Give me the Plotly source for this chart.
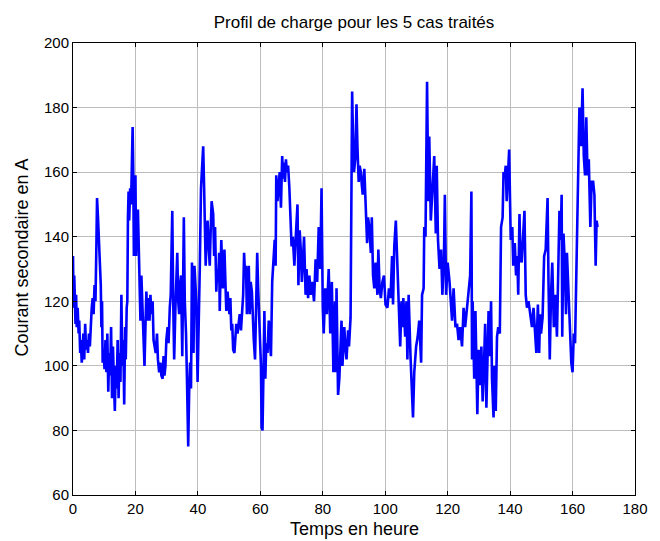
import plotly.graph_objects as go

hours = [
    0.0, 0.2, 0.4, 0.6, 0.8, 1.0, 1.2, 1.5, 1.8, 2.0, 2.3, 2.5, 2.8, 3.0, 3.3, 3.6, 3.9, 4.2, 4.5, 4.8,
    5.1, 5.4, 5.7, 6.0, 6.3, 6.6, 6.9, 7.2, 7.5, 7.7, 8.0, 8.3, 8.6, 8.9, 9.1, 9.3, 9.5, 9.8, 10.1, 10.4,
    10.7, 11.0, 11.3, 11.6, 11.9, 12.2, 12.5, 12.8, 13.1, 13.4, 13.7, 14.0, 14.3, 14.6, 14.9, 15.2, 15.5, 15.8, 16.1, 16.4,
    16.7, 16.9, 17.2, 17.4, 17.6, 17.8, 18.0, 18.3, 18.6, 18.9, 19.1, 19.3, 19.5, 19.8, 20.0, 20.2, 20.5, 20.8, 21.0, 21.3,
    21.6, 21.9, 22.2, 22.4, 22.6, 22.9, 23.2, 23.5, 23.8, 24.1, 24.5, 24.8, 25.1, 25.5, 25.8, 26.1, 26.5, 26.9, 27.2, 27.6,
    28.0, 28.3, 28.7, 29.0, 29.3, 29.6, 29.9, 30.3, 30.6, 31.0, 31.3, 31.6, 31.8, 32.1, 32.4, 32.8, 33.1, 33.4, 33.7, 34.0,
    34.3, 34.6, 35.0, 35.3, 35.5, 35.8, 36.2, 36.5, 36.9, 37.2, 37.5, 37.8, 38.1, 38.3, 38.6, 38.9, 39.2, 39.5, 39.9, 40.2,
    40.6, 41.0, 41.3, 41.7, 42.0, 42.2, 42.5, 42.8, 43.1, 43.4, 43.8, 44.1, 44.4, 44.9, 45.2, 45.5, 45.9, 46.2, 46.5, 46.8,
    47.0, 47.5, 47.8, 48.0, 48.5, 48.8, 49.1, 49.5, 49.8, 50.1, 50.4, 50.7, 51.0, 51.3, 51.7, 52.0, 52.3, 52.7, 53.0, 53.4,
    53.8, 54.2, 54.5, 54.8, 55.1, 55.4, 55.7, 56.0, 56.3, 56.6, 56.9, 57.3, 57.6, 57.9, 58.3, 58.6, 59.0, 59.3, 59.6, 60.0,
    60.2, 60.4, 60.7, 61.0, 61.3, 61.6, 61.9, 62.3, 62.7, 63.0, 63.4, 63.8, 64.1, 64.6, 64.9, 65.1, 65.5, 65.8, 66.2, 66.6,
    67.0, 67.3, 67.6, 67.9, 68.2, 68.5, 68.9, 69.3, 69.7, 70.0, 70.4, 70.9, 71.4, 71.9, 72.2, 72.6, 72.9, 73.3, 73.6, 74.0,
    74.5, 74.8, 75.3, 75.7, 76.1, 76.6, 77.2, 77.7, 78.2, 78.7, 79.2, 79.6, 80.0, 80.3, 80.8, 81.3, 81.9, 82.4, 82.9, 83.4,
    83.9, 84.2, 84.4, 84.9, 85.3, 85.6, 86.0, 86.3, 86.5, 86.9, 87.2, 87.6, 88.1, 88.4, 88.9, 89.1, 89.4, 89.7, 90.0, 90.4,
    90.8, 91.1, 91.5, 91.8, 92.2, 92.5, 92.8, 93.3, 93.8, 94.2, 94.5, 94.9, 95.4, 95.7, 96.1, 96.5, 96.9, 97.5, 97.8, 98.2,
    98.6, 99.1, 99.6, 100.1, 100.7, 101.2, 101.7, 102.2, 102.5, 102.9, 103.4, 103.8, 104.3, 104.8, 105.2, 105.5, 105.8, 106.4, 106.8, 107.1,
    107.5, 107.8, 108.1, 108.6, 108.9, 109.3, 109.9, 110.4, 110.9, 111.5, 111.8, 112.3, 112.5, 112.9, 113.4, 113.8, 114.1, 114.6, 115.1, 115.7,
    116.2, 116.5, 116.9, 117.4, 117.9, 118.3, 118.8, 119.1, 119.5, 120.0, 120.6, 120.9, 121.4, 121.9, 122.5, 123.0, 123.5, 124.0, 124.6, 125.1,
    125.6, 126.0, 126.6, 127.2, 127.6, 127.8, 128.0, 128.5, 128.9, 129.2, 129.5, 129.9, 130.4, 130.8, 131.2, 131.6, 132.0, 132.4, 132.7, 133.1,
    133.5, 133.9, 134.2, 134.7, 135.0, 135.4, 135.8, 136.2, 136.7, 137.1, 137.6, 137.9, 138.3, 138.6, 138.9, 139.4, 139.7, 140.0, 140.2, 140.7,
    141.0, 141.5, 141.9, 142.3, 142.6, 143.0, 143.3, 143.7, 144.1, 144.6, 145.0, 145.4, 145.9, 146.5, 147.0, 147.5, 148.0, 148.4, 148.9, 149.3,
    149.6, 149.9, 150.4, 150.9, 151.4, 152.0, 152.3, 152.7, 153.1, 153.5, 154.0, 154.5, 155.0, 155.4, 155.8, 156.2, 156.5, 156.7, 157.1, 157.5,
    157.9, 158.2, 158.7, 159.1, 159.6, 160.0, 160.4, 160.8, 161.1, 161.5, 161.8, 162.2, 162.7, 163.2, 163.6, 164.0, 164.4, 164.8, 165.2, 165.7,
    166.1, 166.6, 167.0, 167.4, 167.7, 168.0,
]

courant = [
    134, 118, 128, 120, 113, 122, 112, 118, 110, 114, 104, 108, 101, 103, 110, 102, 113, 105, 108, 104,
    110, 106, 114, 118, 121, 116, 125, 120, 138, 152, 146, 138, 131, 125, 112, 120, 101, 104, 99, 108,
    98, 110, 92, 104, 97, 112, 90, 106, 95, 86, 100, 93, 108, 90, 104, 95, 122, 100, 108, 88,
    112, 102, 118, 120, 146, 154, 145, 155, 150, 168, 174, 160, 134, 152, 159, 134, 148, 148, 140, 129,
    114, 128, 120, 117, 108, 100, 112, 123, 114, 121, 114, 122, 116, 120, 108, 106, 104, 110, 102, 98,
    101, 97, 96, 103, 97, 100, 108, 112, 107, 118, 122, 138, 148, 120, 102, 118, 125, 135, 120, 116,
    125, 128, 103, 132, 146, 120, 110, 96, 75, 92, 101, 93, 132, 120, 104, 131, 124, 120, 95, 117,
    130, 155, 162, 168, 155, 142, 131, 140, 145, 138, 131, 142, 151, 147, 134, 143, 123, 130, 126, 135,
    117, 139, 130, 124, 136, 126, 117, 123, 119, 116, 121, 111, 113, 105, 104, 108, 113, 110, 113, 116,
    111, 120, 122, 135, 128, 131, 116, 125, 131, 116, 126, 123, 114, 108, 102, 118, 135, 124, 116, 110,
    100, 81, 80, 98, 117, 96, 107, 104, 114, 108, 103, 126, 130, 139, 131, 159, 151, 156, 160, 149,
    165, 158, 163, 157, 164, 160, 162, 155, 143, 137, 140, 131, 141, 150, 125, 142, 137, 126, 132, 140,
    122, 130, 121, 128, 122, 126, 120, 133, 126, 143, 130, 155, 118, 110, 124, 116, 130, 110, 126, 98,
    120, 98, 124, 91, 96, 105, 114, 100, 104, 112, 106, 102, 111, 106, 115, 137, 185, 170, 160, 164,
    181, 168, 157, 162, 160, 156, 153, 161, 149, 138, 146, 143, 135, 146, 128, 124, 132, 122, 136, 124,
    121, 126, 128, 119, 118, 124, 121, 134, 119, 137, 145, 133, 124, 106, 120, 112, 121, 109, 120, 102,
    122, 110, 103, 91, 84, 98, 106, 109, 114, 101, 122, 124, 143, 140, 188, 151, 171, 145, 153, 165,
    141, 162, 139, 130, 136, 122, 133, 153, 122, 132, 126, 120, 114, 124, 112, 113, 108, 112, 106, 118,
    112, 116, 122, 128, 154, 102, 120, 96, 117, 102, 85, 105, 94, 106, 89, 99, 113, 87, 104, 117,
    103, 120, 96, 84, 100, 86, 109, 112, 110, 143, 146, 160, 159, 162, 151, 163, 167, 150, 139, 143,
    131, 138, 128, 134, 122, 147, 134, 132, 140, 148, 122, 118, 120, 116, 112, 118, 110, 104, 119, 104,
    116, 110, 115, 134, 136, 152, 126, 102, 122, 132, 112, 122, 109, 124, 148, 139, 153, 109, 141, 132,
    116, 135, 122, 110, 101, 98, 110, 107, 123, 145, 166, 180, 168, 186, 165, 159, 177, 159, 164, 143,
    157, 157, 153, 131, 145, 143,
]

x_ticks = [0, 20, 40, 60, 80, 100, 120, 140, 160, 180]
y_ticks = [60, 80, 100, 120, 140, 160, 180, 200]

FONT = "Liberation Sans, Arial, sans-serif"

fig = go.Figure()
fig.add_trace(go.Scatter(
    x=hours, y=courant, mode="lines",
    line=dict(color="rgb(0,0,255)", width=2.6),
    showlegend=False, hoverinfo="skip",
))

axis_common = dict(
    showline=True, linecolor="black", linewidth=1, mirror="ticks",
    ticks="inside", ticklen=4, tickcolor="black",
    showgrid=True, gridcolor="#bdbdbd", gridwidth=1,
    zeroline=False,
    tickfont=dict(family=FONT, size=15, color="black"),
)

ML, MR = 73, 14
PW = 660 - ML - MR

fig.update_layout(
    width=660, height=541, autosize=False,
    paper_bgcolor="white", plot_bgcolor="white",
    margin=dict(l=ML, r=MR, t=43, b=46),
    hovermode=False,
    title=dict(
        text="Profil de charge pour les 5 cas traités",
        x=0.5, xref="paper", xanchor="center",
        y=1 - 22 / 541, yref="container", yanchor="middle",
        font=dict(family=FONT, size=17, color="black"),
    ),
    xaxis=dict(range=[0, 180], tickvals=x_ticks, **axis_common),
    yaxis=dict(range=[60, 200], tickvals=y_ticks, **axis_common),
    annotations=[
        dict(text="Temps en heure", x=0.5, xref="paper", y=-(529 - 495) / 452, yref="paper",
             xanchor="center", yanchor="middle", showarrow=False,
             font=dict(family=FONT, size=18, color="black")),
        dict(text="Courant secondaire en A", x=(20.5 - ML) / PW, xref="paper",
             y=(495 - 258) / 452, yref="paper", textangle=-90,
             xanchor="center", yanchor="middle", showarrow=False,
             font=dict(family=FONT, size=18, color="black")),
    ],
)

fig.write_html(
    "out.html",
    config={"displayModeBar": False, "responsive": False},
    post_script="document.body.style.margin='0';document.documentElement.style.overflow='hidden';",
)
